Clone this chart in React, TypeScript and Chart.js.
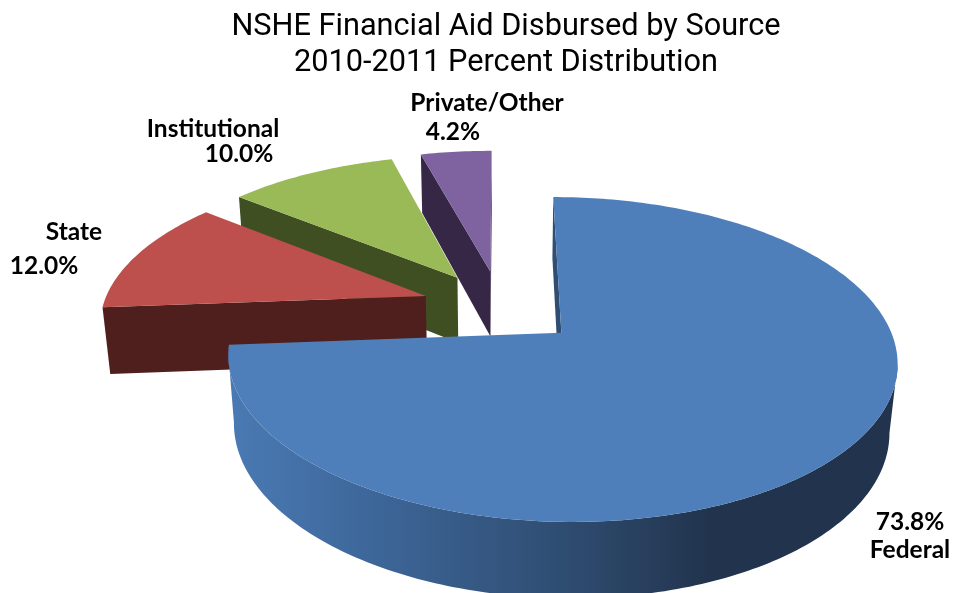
import React, { useEffect, useRef } from "react";
import { Chart, registerables } from "chart.js";

Chart.register(...registerables);

const sources = ["Federal", "State", "Institutional", "Private/Other"];
const shares = [73.8, 12.0, 10.0, 4.2];
const titleLines = ["NSHE Financial Aid Disbursed by Source", "2010-2011 Percent Distribution"];

const topColors = ["#4e7fba", "#bd4f4c", "#99ba57", "#7f63a0"];
const wallColors = ["#22344d", "#4f1f1e", "#404f22", "#362747"];
const federalWallStops: [number, string][] = [
  [0, "#4a7ab4"],
  [0.18, "#3f6a9e"],
  [0.5, "#2f4d72"],
  [0.72, "#22344d"],
  [1, "#22344d"],
];

// Camera used to lay the flat pie onto its tilted plane; one lens per slice.
const lenses = [
  { cx: 504, cy: 308, a: 321.5 },
  { cx: 498, cy: 306.5, a: 323 },
  { cx: 498, cy: 306.5, a: 323 },
  { cx: 500, cy: 305.5, a: 323 },
];
const tilt = { b: 150, k: 0.16, m: 0.02, d: 68 };
const RADIUS = 200;
const EXPLODE = 47.4;

type Lens = { cx: number; cy: number; a: number };
type Pt = { u: number; v: number };
type Xy = [number, number];

const project = (lens: Lens, p: Pt, z: number): Xy => {
  const w = 1 - tilt.k * p.v + tilt.m * z;
  return [lens.cx + (lens.a * p.u) / w, lens.cy + (tilt.b * p.v + tilt.d * z) / w];
};

const wedgeOutline = (arc: any): Pt[] => {
  const mid = (arc.startAngle + arc.endAngle) / 2;
  const e = arc.options.offset / arc.outerRadius;
  const ox = Math.cos(mid) * e;
  const oy = Math.sin(mid) * e;
  const steps = Math.max(8, Math.ceil(((arc.endAngle - arc.startAngle) * 180) / Math.PI));
  const pts: Pt[] = [{ u: ox, v: oy }];
  for (let i = 0; i <= steps; i++) {
    const t = arc.startAngle + ((arc.endAngle - arc.startAngle) * i) / steps;
    pts.push({ u: ox + Math.cos(t), v: oy + Math.sin(t) });
  }
  pts.push({ u: ox, v: oy });
  return pts;
};

const fillPath = (ctx: CanvasRenderingContext2D, pts: Xy[], fill: any) => {
  ctx.beginPath();
  pts.forEach(([x, y], i) => (i ? ctx.lineTo(x, y) : ctx.moveTo(x, y)));
  ctx.closePath();
  ctx.fillStyle = fill;
  ctx.fill();
};

const drawWedge = (ctx: CanvasRenderingContext2D, arc: any, index: number) => {
  const lens = lenses[index];
  const loop = wedgeOutline(arc);
  let wallFill: any = wallColors[index];
  if (index === 0) {
    const g = ctx.createLinearGradient(228, 0, 895, 0);
    federalWallStops.forEach(([p, c]) => g.addColorStop(p, c));
    wallFill = g;
  }
  // Only edges running leftwards on screen show their wall to the camera;
  // each unbroken run of such edges becomes one band.
  let run: Pt[] = [];
  const flush = () => {
    if (run.length > 1) {
      const upper = run.map((p) => project(lens, p, 0));
      const lower = run.map((p) => project(lens, p, 1)).reverse();
      fillPath(ctx, [...upper, ...lower], wallFill);
    }
    run = [];
  };
  for (let i = 0; i < loop.length - 1; i++) {
    const p = project(lens, loop[i], 0);
    const q = project(lens, loop[i + 1], 0);
    if (q[0] < p[0]) {
      if (!run.length) run.push(loop[i]);
      run.push(loop[i + 1]);
    } else {
      flush();
    }
  }
  flush();
  fillPath(ctx, loop.map((pt) => project(lens, pt, 0)), topColors[index]);
};

const valueText = (i: number) => `${shares[i].toFixed(1)}%`;

const labelSpots: { text: string; x: number; y: number }[] = [
  { text: sources[3], x: 487, y: 103 },
  { text: valueText(3), x: 453, y: 132 },
  { text: sources[2], x: 213, y: 129 },
  { text: valueText(2), x: 239, y: 154 },
  { text: sources[1], x: 74, y: 232 },
  { text: valueText(1), x: 44, y: 266 },
  { text: valueText(0), x: 910, y: 522 },
  { text: sources[0], x: 910, y: 550 },
];

const tiltedPie = {
  id: "tiltedPie",
  beforeDatasetDraw(chart: any) {
    const ctx: CanvasRenderingContext2D = chart.ctx;
    const arcs = chart.getDatasetMeta(0).data;
    ctx.save();
    // Back to front: the slices nearest the top of the plane go first.
    [3, 2, 1, 0].forEach((i) => drawWedge(ctx, arcs[i], i));
    ctx.restore();
    return false;
  },
  afterDraw(chart: any) {
    const ctx: CanvasRenderingContext2D = chart.ctx;
    ctx.save();
    ctx.textAlign = "center";
    ctx.textBaseline = "middle";
    ctx.fillStyle = "#000";
    ctx.font = "bold 24.5px Lato";
    labelSpots.forEach((l) => ctx.fillText(l.text, l.x, l.y));
    ctx.restore();
  },
};

export default function App() {
  const ref = useRef<HTMLCanvasElement>(null);
  useEffect(() => {
    const chart = new Chart(ref.current!, {
      type: "pie",
      data: {
        labels: sources,
        datasets: [
          {
            data: shares,
            backgroundColor: topColors,
            borderWidth: 0,
            offset: EXPLODE,
          },
        ],
      },
      options: {
        responsive: false,
        animation: false,
        radius: RADIUS,
        layout: { padding: { left: 58 } },
        plugins: {
          legend: { display: false },
          tooltip: { enabled: false },
          title: {
            display: true,
            text: titleLines,
            color: "#000",
            font: { family: "Roboto", size: 30.7, weight: "normal", lineHeight: 1.176 },
            padding: { top: 9, bottom: 4 },
          },
        },
      } as any,
      plugins: [tiltedPie],
    });
    return () => chart.destroy();
  }, []);
  return (
    <div style={{ position: "fixed", left: 0, top: 0, width: 954, height: 593, background: "#fff" }}>
      <canvas ref={ref} width={954} height={593} style={{ display: "block" }} />
    </div>
  );
}
